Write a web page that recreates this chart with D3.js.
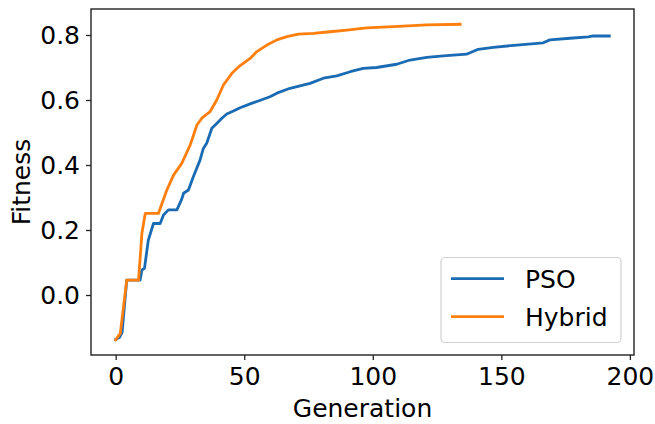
<!DOCTYPE html>
<html>
<head>
<meta charset="utf-8">
<script src="https://cdn.jsdelivr.net/npm/d3@7"></script>
<style>
  html, body { margin: 0; padding: 0; background: #fff; }
  svg { display: block; }
  text { font-family: "DejaVu Sans", sans-serif; fill: #000; }
</style>
</head>
<body>
<svg id="chart" width="655" height="424"></svg>
<script>
// ---- data ----
const psoGen = [0, 1.5, 2.5, 4.3, 9.5, 10.2, 11.2, 12.7, 14.7, 17.3, 18.6, 20.5, 23.8, 25.7, 26.4, 28.3, 30.2, 32.8, 34.1, 35.4, 37.4, 39.3, 41.3, 43.2, 45.8, 48.4, 52.3, 55.5, 60, 62.7, 67.8, 75.6, 80.8, 86, 91.2, 96.3, 101.5, 109.3, 114.5, 121, 127.4, 136.5, 141, 146.9, 156, 166.3, 168.9, 176.7, 183.8, 185.7, 192];
const psoFit = [-0.137, -0.13, -0.115, 0.046, 0.046, 0.077, 0.082, 0.169, 0.22, 0.22, 0.246, 0.262, 0.262, 0.295, 0.313, 0.323, 0.364, 0.415, 0.451, 0.467, 0.513, 0.528, 0.544, 0.557, 0.566, 0.576, 0.588, 0.597, 0.610, 0.621, 0.636, 0.651, 0.667, 0.674, 0.687, 0.697, 0.700, 0.710, 0.723, 0.731, 0.736, 0.741, 0.756, 0.762, 0.769, 0.776, 0.785, 0.790, 0.794, 0.797, 0.797];

const hybGen = [0, 1.8, 4.3, 8.9, 10.2, 11.5, 16.6, 19.9, 22.5, 25.7, 29, 31.6, 33.5, 36.7, 39.3, 41.9, 45.2, 48.4, 52.3, 54.9, 58.8, 62.7, 66.6, 71.1, 76.9, 83.4, 89.9, 97.6, 108, 121, 134];
const hybFit = [-0.138, -0.118, 0.046, 0.046, 0.19, 0.251, 0.251, 0.323, 0.369, 0.405, 0.462, 0.523, 0.544, 0.564, 0.6, 0.646, 0.682, 0.706, 0.728, 0.749, 0.769, 0.785, 0.795, 0.803, 0.805, 0.810, 0.815, 0.822, 0.826, 0.831, 0.833];

const xTicks = [0, 50, 100, 150, 200];
const yTicks = [0.0, 0.2, 0.4, 0.6, 0.8];
const seriesNames = ["PSO", "Hybrid"];
const seriesColors = ["#1a6bb3", "#ff7f0e"];

// ---- layout ----
const svg = d3.select("#chart");
const L = 91, R = 634, T = 9, B = 355;

const x = d3.scaleLinear().domain([-9.6, 201.6]).range([L, R]);
const y = d3.scaleLinear().domain([-0.1846, 0.88]).range([B, T]);

const fs = 25;

// lines
const series = [
  { name: seriesNames[0], color: seriesColors[0], pts: psoGen.map((g, i) => [g, psoFit[i]]) },
  { name: seriesNames[1], color: seriesColors[1], pts: hybGen.map((g, i) => [g, hybFit[i]]) }
];
const line = d3.line().x(d => x(d[0])).y(d => y(d[1]));

svg.append("g").selectAll("path").data(series).join("path")
  .attr("d", d => line(d.pts))
  .attr("fill", "none")
  .attr("stroke", d => d.color)
  .attr("stroke-width", 2.8)
  .attr("stroke-linejoin", "round")
  .attr("stroke-linecap", "square");

// axes
const xAxis = d3.axisBottom(x).tickValues(xTicks).tickFormat(d3.format("d")).tickSizeInner(5).tickSizeOuter(0).tickPadding(7);
const yAxis = d3.axisLeft(y).tickValues(yTicks).tickFormat(d3.format(".1f")).tickSizeInner(5).tickSizeOuter(0).tickPadding(6);

const gx = svg.append("g").attr("transform", `translate(0,${B})`).call(xAxis);
const gy = svg.append("g").attr("transform", `translate(${L},0)`).call(yAxis);
[gx, gy].forEach(g => {
  g.select(".domain").remove();
  g.selectAll(".tick line").attr("stroke", "#222").attr("stroke-width", 1.3);
  g.selectAll(".tick text").attr("font-size", fs).attr("font-family", "DejaVu Sans").attr("fill", "#000");
});

// frame
svg.append("rect")
  .attr("x", L).attr("y", T).attr("width", R - L).attr("height", B - T)
  .attr("fill", "none").attr("stroke", "#222").attr("stroke-width", 1.4);

// axis labels
svg.append("text")
  .attr("x", (L + R) / 2).attr("y", 417)
  .attr("text-anchor", "middle").attr("font-size", fs)
  .text("Generation");
svg.append("text")
  .attr("transform", `translate(30,${(T + B) / 2}) rotate(-90)`)
  .attr("text-anchor", "middle").attr("font-size", fs)
  .text("Fitness");

// legend
const lg = svg.append("g");
lg.append("rect")
  .attr("x", 441).attr("y", 257.5).attr("width", 180).attr("height", 85)
  .attr("rx", 4).attr("fill", "#fff").attr("fill-opacity", 0.8)
  .attr("stroke", "#d0d0d0").attr("stroke-width", 1.2);
series.forEach((s, i) => {
  const yy = 278.7 + i * 38;
  lg.append("line").attr("x1", 451).attr("x2", 504).attr("y1", yy).attr("y2", yy)
    .attr("stroke", s.color).attr("stroke-width", 2.8);
  lg.append("text").attr("x", 525).attr("y", yy + 9).attr("font-size", fs).text(s.name);
});
</script>
</body>
</html>
